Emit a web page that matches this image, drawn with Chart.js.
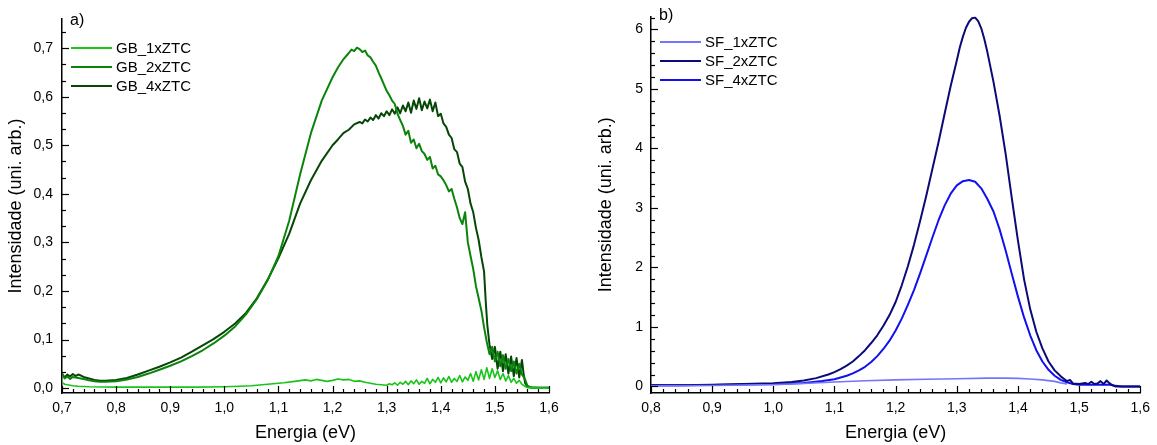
<!DOCTYPE html>
<html>
<head>
<meta charset="utf-8">
<script src="https://cdn.jsdelivr.net/npm/chart.js@4.4.0/dist/chart.umd.min.js"></script>
<style>
    body { margin: 0; background: #fff; width: 1157px; height: 445px; overflow: hidden; position: relative; }
    #chartA { position: absolute; left: 0; top: 0; }
    #chartB { position: absolute; left: 580px; top: 0; }
</style>
</head>
<body>
<canvas id="chartA" width="580" height="445"></canvas>
<canvas id="chartB" width="577" height="445"></canvas>
<script>
// ---- panel a) ----
const gb1Energy = [0.70, 0.705, 0.71, 0.72, 0.73, 0.75, 0.80, 0.85, 0.90, 0.95, 1.00, 1.03, 1.05, 1.07, 1.09, 1.11, 1.13, 1.15, 1.16, 1.17, 1.18, 1.19, 1.20, 1.21, 1.22, 1.23, 1.24, 1.25, 1.26, 1.27, 1.28, 1.29, 1.30, 1.305, 1.31, 1.315, 1.32, 1.325, 1.33, 1.335, 1.34, 1.345, 1.35, 1.355, 1.36, 1.365, 1.37, 1.375, 1.38, 1.385, 1.39, 1.395, 1.40, 1.405, 1.41, 1.415, 1.42, 1.425, 1.43, 1.435, 1.44, 1.445, 1.45, 1.455, 1.46, 1.465, 1.47, 1.475, 1.48, 1.485, 1.49, 1.495, 1.50, 1.505, 1.51, 1.515, 1.52, 1.525, 1.53, 1.535, 1.54, 1.545, 1.55, 1.555, 1.56, 1.58, 1.60];
const gb1Values = [0.012, 0.008, 0.007, 0.005, 0.004, 0.003, 0.002, 0.002, 0.002, 0.002, 0.003, 0.004, 0.005, 0.007, 0.009, 0.011, 0.014, 0.017, 0.015, 0.018, 0.016, 0.014, 0.016, 0.019, 0.017, 0.018, 0.014, 0.015, 0.012, 0.010, 0.008, 0.007, 0.006, 0.009, 0.007, 0.011, 0.006, 0.012, 0.008, 0.014, 0.007, 0.015, 0.009, 0.017, 0.008, 0.014, 0.010, 0.020, 0.009, 0.018, 0.012, 0.022, 0.011, 0.021, 0.013, 0.024, 0.012, 0.020, 0.014, 0.026, 0.013, 0.023, 0.016, 0.030, 0.014, 0.034, 0.017, 0.038, 0.018, 0.042, 0.020, 0.040, 0.022, 0.036, 0.018, 0.030, 0.015, 0.026, 0.012, 0.020, 0.010, 0.016, 0.008, 0.004, 0.001, 0.000, 0.000];

const gb2Energy = [0.70, 0.705, 0.71, 0.715, 0.72, 0.73, 0.74, 0.75, 0.76, 0.77, 0.78, 0.80, 0.82, 0.84, 0.86, 0.88, 0.90, 0.92, 0.94, 0.96, 0.98, 1.00, 1.02, 1.04, 1.06, 1.08, 1.10, 1.12, 1.14, 1.16, 1.18, 1.20, 1.21, 1.22, 1.23, 1.235, 1.24, 1.245, 1.25, 1.255, 1.26, 1.265, 1.27, 1.275, 1.28, 1.285, 1.29, 1.295, 1.30, 1.305, 1.31, 1.315, 1.32, 1.325, 1.33, 1.335, 1.34, 1.345, 1.35, 1.355, 1.36, 1.365, 1.37, 1.375, 1.38, 1.385, 1.39, 1.395, 1.40, 1.405, 1.41, 1.415, 1.42, 1.425, 1.43, 1.435, 1.44, 1.445, 1.45, 1.455, 1.46, 1.465, 1.47, 1.475, 1.48, 1.485, 1.49, 1.495, 1.50, 1.505, 1.51, 1.515, 1.52, 1.525, 1.53, 1.535, 1.54, 1.545, 1.55, 1.555, 1.56, 1.565, 1.58, 1.60];
const gb2Values = [0.028, 0.020, 0.024, 0.019, 0.023, 0.021, 0.019, 0.016, 0.014, 0.013, 0.013, 0.014, 0.018, 0.023, 0.030, 0.038, 0.046, 0.055, 0.066, 0.078, 0.092, 0.108, 0.127, 0.152, 0.183, 0.222, 0.272, 0.345, 0.440, 0.525, 0.592, 0.640, 0.660, 0.677, 0.690, 0.697, 0.694, 0.701, 0.698, 0.692, 0.695, 0.685, 0.681, 0.672, 0.664, 0.650, 0.638, 0.625, 0.612, 0.603, 0.592, 0.585, 0.565, 0.552, 0.540, 0.522, 0.530, 0.505, 0.512, 0.494, 0.503, 0.488, 0.482, 0.470, 0.476, 0.452, 0.458, 0.440, 0.436, 0.428, 0.418, 0.405, 0.410, 0.390, 0.372, 0.350, 0.338, 0.362, 0.300, 0.272, 0.245, 0.210, 0.185, 0.160, 0.125, 0.095, 0.070, 0.085, 0.055, 0.075, 0.045, 0.068, 0.040, 0.060, 0.035, 0.055, 0.030, 0.050, 0.028, 0.020, 0.005, 0.002, 0.001, 0.001];

const gb4Energy = [0.70, 0.705, 0.71, 0.715, 0.72, 0.725, 0.73, 0.735, 0.74, 0.75, 0.76, 0.77, 0.78, 0.80, 0.82, 0.84, 0.86, 0.88, 0.90, 0.92, 0.94, 0.96, 0.98, 1.00, 1.02, 1.04, 1.06, 1.08, 1.10, 1.12, 1.14, 1.16, 1.18, 1.20, 1.21, 1.22, 1.23, 1.24, 1.25, 1.255, 1.26, 1.265, 1.27, 1.275, 1.28, 1.285, 1.29, 1.295, 1.30, 1.305, 1.31, 1.315, 1.32, 1.325, 1.33, 1.335, 1.34, 1.345, 1.35, 1.355, 1.36, 1.365, 1.37, 1.375, 1.38, 1.385, 1.39, 1.395, 1.40, 1.405, 1.41, 1.415, 1.42, 1.425, 1.43, 1.435, 1.44, 1.445, 1.45, 1.455, 1.46, 1.465, 1.47, 1.475, 1.48, 1.483, 1.486, 1.49, 1.495, 1.50, 1.505, 1.51, 1.515, 1.52, 1.525, 1.53, 1.535, 1.54, 1.545, 1.55, 1.553, 1.556, 1.56, 1.57, 1.60];
const gb4Values = [0.030, 0.022, 0.028, 0.024, 0.029, 0.025, 0.028, 0.026, 0.023, 0.020, 0.017, 0.015, 0.015, 0.017, 0.021, 0.028, 0.036, 0.044, 0.053, 0.063, 0.075, 0.088, 0.101, 0.116, 0.133, 0.155, 0.185, 0.223, 0.268, 0.318, 0.380, 0.428, 0.468, 0.500, 0.512, 0.525, 0.532, 0.543, 0.548, 0.545, 0.553, 0.549, 0.557, 0.552, 0.562, 0.555, 0.566, 0.560, 0.570, 0.562, 0.574, 0.565, 0.578, 0.566, 0.582, 0.570, 0.588, 0.567, 0.592, 0.575, 0.597, 0.572, 0.590, 0.576, 0.594, 0.570, 0.588, 0.560, 0.565, 0.545, 0.538, 0.522, 0.515, 0.492, 0.486, 0.462, 0.455, 0.425, 0.410, 0.380, 0.362, 0.330, 0.305, 0.270, 0.240, 0.180, 0.130, 0.090, 0.060, 0.085, 0.040, 0.075, 0.035, 0.070, 0.030, 0.065, 0.025, 0.062, 0.022, 0.058, 0.030, 0.010, 0.003, 0.001, 0.001];

const xTicksA = [0.7, 0.8, 0.9, 1.0, 1.1, 1.2, 1.3, 1.4, 1.5, 1.6];
const yTicksA = [0.0, 0.1, 0.2, 0.3, 0.4, 0.5, 0.6, 0.7];

// ---- panel b) ----
const sf1Energy = [0.80, 0.90, 1.00, 1.05, 1.10, 1.15, 1.20, 1.25, 1.30, 1.35, 1.38, 1.40, 1.42, 1.44, 1.46, 1.47, 1.48];
const sf1Values = [0.01, 0.015, 0.03, 0.05, 0.075, 0.095, 0.11, 0.12, 0.13, 0.14, 0.14, 0.135, 0.125, 0.11, 0.085, 0.06, 0.04];

const sf2Energy = [0.80, 0.85, 0.90, 0.95, 1.00, 1.03, 1.05, 1.07, 1.09, 1.10, 1.11, 1.12, 1.13, 1.14, 1.15, 1.16, 1.17, 1.18, 1.19, 1.20, 1.21, 1.22, 1.23, 1.24, 1.25, 1.26, 1.27, 1.28, 1.29, 1.30, 1.305, 1.31, 1.315, 1.32, 1.325, 1.33, 1.335, 1.34, 1.345, 1.35, 1.36, 1.37, 1.38, 1.39, 1.40, 1.41, 1.42, 1.43, 1.44, 1.45, 1.46, 1.47, 1.475, 1.48, 1.485, 1.49, 1.50, 1.51, 1.515, 1.52, 1.525, 1.53, 1.535, 1.54, 1.545, 1.55, 1.555, 1.56, 1.60];
const sf2Values = [0.02, 0.02, 0.03, 0.04, 0.055, 0.075, 0.10, 0.14, 0.20, 0.24, 0.29, 0.35, 0.42, 0.51, 0.61, 0.73, 0.86, 1.02, 1.20, 1.42, 1.70, 2.02, 2.38, 2.78, 3.20, 3.65, 4.10, 4.58, 5.05, 5.48, 5.70, 5.88, 6.03, 6.13, 6.19, 6.20, 6.14, 6.02, 5.84, 5.62, 5.12, 4.55, 3.90, 3.16, 2.45, 1.80, 1.30, 0.92, 0.64, 0.42, 0.27, 0.17, 0.13, 0.09, 0.11, 0.05, 0.04, 0.06, 0.04, 0.08, 0.04, 0.05, 0.09, 0.04, 0.10, 0.05, 0.02, 0.0, 0.0];

const sf4Energy = [0.80, 0.90, 1.00, 1.05, 1.08, 1.10, 1.12, 1.13, 1.14, 1.15, 1.16, 1.17, 1.18, 1.19, 1.20, 1.21, 1.22, 1.23, 1.24, 1.25, 1.26, 1.27, 1.28, 1.29, 1.30, 1.31, 1.32, 1.33, 1.34, 1.35, 1.36, 1.37, 1.38, 1.39, 1.40, 1.41, 1.42, 1.43, 1.44, 1.45, 1.46, 1.47, 1.48, 1.49, 1.50, 1.52, 1.54, 1.55, 1.56, 1.57, 1.60];
const sf4Values = [0.02, 0.025, 0.04, 0.06, 0.09, 0.12, 0.18, 0.22, 0.27, 0.33, 0.41, 0.51, 0.63, 0.77, 0.94, 1.14, 1.37, 1.62, 1.90, 2.20, 2.50, 2.79, 3.04, 3.24, 3.38, 3.45, 3.47, 3.44, 3.33, 3.15, 2.94, 2.64, 2.28, 1.89, 1.51, 1.16, 0.86, 0.61, 0.42, 0.28, 0.18, 0.11, 0.07, 0.04, 0.03, 0.03, 0.03, 0.03, 0.01, 0.0, 0.0];

const xTicksB = [0.8, 0.9, 1.0, 1.1, 1.2, 1.3, 1.4, 1.5, 1.6];
const yTicksB = [0, 1, 2, 3, 4, 5, 6];

const fontFamily = "'Liberation Sans', Arial, sans-serif";

const toPoints = (xs, ys) => {
    const points = [];
    for (let i = 0; i < xs.length; i++) {
        points.push({ x: xs[i], y: ys[i] });
    }
    return points;
};

const commaLabel = (value) => value.toFixed(1).replace(".", ",");

// draws inward ticks, the legend and the panel letter
const axisDecor = {
    id: "axisDecor",
    afterDraw(chart, args, opts) {
        const ctx = chart.ctx;
        const area = chart.chartArea;
        const xScale = chart.scales.x;
        const yScale = chart.scales.y;

        ctx.save();
        ctx.strokeStyle = "#000";
        ctx.lineWidth = 1.2;

        const xStep = opts.xMajor / opts.xSub;
        const xFirst = Math.ceil(xScale.min / xStep - 1e-6);
        const xLast = Math.floor(xScale.max / xStep + 1e-6);
        for (let k = xFirst; k <= xLast; k++) {
            const px = Math.round(xScale.getPixelForValue(k * xStep)) + 0.5;
            const len = k % opts.xSub === 0 ? 7 : 4;
            ctx.beginPath();
            ctx.moveTo(px, area.bottom);
            ctx.lineTo(px, area.bottom - len);
            ctx.stroke();
        }

        const yStep = opts.yMajor / opts.ySub;
        const yFirst = Math.ceil(yScale.min / yStep - 1e-6);
        const yLast = Math.floor(yScale.max / yStep + 1e-6);
        for (let k = yFirst; k <= yLast; k++) {
            const py = Math.round(yScale.getPixelForValue(k * yStep)) + 0.5;
            const len = k % opts.ySub === 0 ? 7 : 4;
            ctx.beginPath();
            ctx.moveTo(area.left, py);
            ctx.lineTo(area.left + len, py);
            ctx.stroke();
        }

        ctx.font = "15px " + fontFamily;
        ctx.textBaseline = "middle";
        ctx.textAlign = "left";
        chart.data.datasets.forEach((ds, i) => {
            const rowY = opts.legendY + i * 19;
            ctx.strokeStyle = ds.borderColor;
            ctx.lineWidth = 2;
            ctx.beginPath();
            ctx.moveTo(opts.legendX, rowY);
            ctx.lineTo(opts.legendX + 41, rowY);
            ctx.stroke();
            ctx.fillStyle = "#000";
            ctx.fillText(ds.label, opts.legendX + 45, rowY + 1);
        });

        ctx.font = "16px " + fontFamily;
        ctx.fillStyle = "#000";
        ctx.fillText(opts.panel, opts.panelX, opts.panelY);
        ctx.restore();
    }
};

const makeOptions = (cfg) => ({
    responsive: false,
    animation: false,
    layout: { padding: cfg.padding },
    plugins: {
        legend: { display: false },
        tooltip: { enabled: false },
        axisDecor: cfg.decor
    },
    elements: { point: { radius: 0 }, line: { tension: 0, borderJoinStyle: "round" } },
    scales: {
        x: {
            type: "linear",
            min: cfg.xMin,
            max: cfg.xMax,
            afterFit: (scale) => { scale.height = cfg.xHeight; },
            afterBuildTicks: (scale) => { scale.ticks = cfg.xTicks.map((v) => ({ value: v })); },
            grid: { display: false, drawTicks: false },
            border: { display: true, color: "#000", width: 1.5 },
            ticks: {
                padding: 7,
                color: "#000",
                font: { family: fontFamily, size: 14 },
                maxRotation: 0,
                callback: (v) => commaLabel(v)
            },
            title: {
                display: true,
                text: "Energia (eV)",
                color: "#000",
                font: { family: fontFamily, size: 18 },
                padding: { top: 0, bottom: 1 }
            }
        },
        y: {
            type: "linear",
            min: cfg.yMin,
            max: cfg.yMax,
            afterFit: (scale) => { scale.width = cfg.yWidth; },
            afterBuildTicks: (scale) => { scale.ticks = cfg.yTicks.map((v) => ({ value: v })); },
            grid: { display: false, drawTicks: false },
            border: { display: true, color: "#000", width: 1.5 },
            ticks: {
                padding: cfg.yPad,
                color: "#000",
                font: { family: fontFamily, size: 14 },
                callback: cfg.yLabel
            },
            title: {
                display: true,
                text: "Intensidade (uni. arb.)",
                color: "#000",
                font: { family: fontFamily, size: 18 },
                padding: { top: cfg.yTitlePad, bottom: 0 }
            }
        }
    }
});

const lineSet = (label, xs, ys, color, width) => ({
    label: label,
    data: toPoints(xs, ys),
    borderColor: color,
    backgroundColor: color,
    borderWidth: width,
    fill: false
});

new Chart(document.querySelector("#chartA"), {
    type: "line",
    data: {
        datasets: [
            lineSet("GB_1xZTC", gb1Energy, gb1Values, "#19c419", 1.6),
            lineSet("GB_2xZTC", gb2Energy, gb2Values, "#0a840a", 2),
            lineSet("GB_4xZTC", gb4Energy, gb4Values, "#064606", 2)
        ]
    },
    options: makeOptions({
        padding: { left: 0, right: 31, top: 19, bottom: 0 },
        xMin: 0.7, xMax: 1.6, xTicks: xTicksA, xHeight: 52,
        yMin: -0.01, yMax: 0.76, yTicks: yTicksA, yWidth: 62, yPad: 9, yTitlePad: 5,
        yLabel: (v) => commaLabel(v),
        decor: {
            xMajor: 0.1, xSub: 5, yMajor: 0.1, ySub: 3,
            legendX: 71, legendY: 48, panel: "a)", panelX: 70, panelY: 21
        }
    }),
    plugins: [axisDecor]
});

new Chart(document.querySelector("#chartB"), {
    type: "line",
    data: {
        datasets: [
            lineSet("SF_1xZTC", sf1Energy, sf1Values, "#7474ff", 1.6),
            lineSet("SF_2xZTC", sf2Energy, sf2Values, "#0a0a78", 2),
            lineSet("SF_4xZTC", sf4Energy, sf4Values, "#1010f0", 2)
        ]
    },
    options: makeOptions({
        padding: { left: 0, right: 14, top: 13, bottom: 0 },
        xMin: 0.8, xMax: 1.6, xTicks: xTicksB, xHeight: 52,
        yMin: -0.11, yMax: 6.22, yTicks: yTicksB, yWidth: 71, yPad: 8, yTitlePad: 15,
        yLabel: (v) => String(v),
        decor: {
            xMajor: 0.1, xSub: 5, yMajor: 1, ySub: 5,
            legendX: 80, legendY: 42, panel: "b)", panelX: 79, panelY: 16
        }
    }),
    plugins: [axisDecor]
});
</script>
</body>
</html>
